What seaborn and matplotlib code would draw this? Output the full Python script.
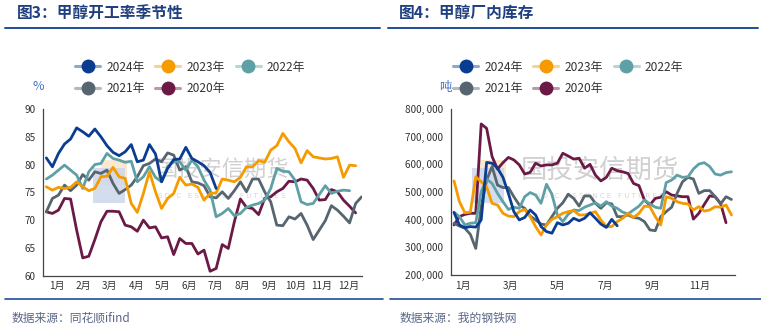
import numpy as np
import pandas as pd
import matplotlib
matplotlib.use('Agg')
import matplotlib.pyplot as plt
import seaborn as sns
from matplotlib.lines import Line2D
from matplotlib.ticker import FuncFormatter
import matplotlib.patches as mpatches

# ---------------- data ----------------
years = ['2024年', '2023年', '2022年', '2021年', '2020年']
colors = ['#0a3d91', '#f59b00', '#5fa0a6', '#56656f', '#6b1a46']
month_labels = ['1月', '2月', '3月', '4月', '5月', '6月', '7月', '8月', '9月', '10月', '11月', '12月']
inv_month_labels = ['1月', '3月', '5月', '7月', '9月', '11月']

rate_2024 = [81.2, 79.6, 82.0, 83.7, 84.6, 86.6, 85.9, 85.1, 86.4, 85.0, 83.4, 82.2, 81.6, 82.3,
             83.6, 80.5, 80.8, 83.6, 81.9, 76.9, 79.3, 80.9, 81.0, 83.1, 81.1, 80.5, 79.8, 78.6, 75.7]
rate_2023 = [76.0, 75.4, 75.9, 75.7, 75.9, 76.9, 76.0, 75.3, 75.7, 77.8, 77.9, 79.5, 77.8, 77.5,
             73.0, 71.4, 74.8, 78.7, 75.1, 72.1, 73.9, 74.8, 77.7, 76.3, 76.5, 75.9, 73.6, 74.8,
             74.9, 77.4, 77.2, 76.9, 77.7, 79.6, 79.6, 80.7, 80.4, 82.6, 83.4, 85.6, 84.1, 82.9,
             80.3, 82.5, 81.4, 81.2, 81.0, 81.1, 81.4, 77.7, 79.9, 79.8]
rate_2022 = [77.4, 78.1, 79.0, 79.9, 79.0, 78.1, 75.7, 78.7, 80.0, 80.2, 82.0, 81.1, 80.8, 80.4,
             80.6, 76.9, 77.8, 79.6, 77.7, 76.9, 79.6, 80.5, 80.5, 79.0, 80.8, 79.6, 77.2, 75.4,
             70.6, 71.2, 72.1, 70.8, 71.2, 72.3, 72.7, 73.0, 73.6, 75.7, 79.3, 78.8, 78.7, 77.2,
             73.3, 72.8, 73.0, 74.6, 76.2, 74.8, 75.2, 75.4, 75.3]
rate_2021 = [71.5, 73.9, 74.5, 76.3, 75.3, 76.3, 78.2, 77.2, 78.7, 78.4, 79.0, 76.6, 74.8, 75.5,
             76.3, 77.8, 79.8, 80.2, 81.0, 80.5, 82.1, 81.7, 79.0, 79.6, 76.9, 76.7, 76.2, 74.2,
             74.0, 75.1, 73.9, 75.3, 76.9, 75.1, 77.4, 77.4, 75.1, 73.3, 69.1, 69.0, 70.6, 70.2,
             71.2, 69.1, 66.5, 68.2, 69.9, 72.6, 71.8, 70.7, 69.5, 73.0, 74.2]
rate_2020 = [71.5, 71.2, 71.8, 73.9, 73.8, 68.2, 63.2, 63.5, 66.5, 69.7, 71.6, 71.6, 71.5, 69.1,
             68.8, 68.0, 70.0, 68.6, 68.8, 66.8, 67.0, 63.8, 66.7, 65.8, 65.8, 63.9, 64.6, 60.8,
             61.3, 65.6, 64.9, 69.7, 73.8, 72.3, 72.1, 71.0, 73.9, 74.2, 75.1, 75.7, 77.0, 76.9,
             77.4, 77.2, 75.7, 73.6, 73.7, 75.5, 75.1, 73.6, 72.5, 71.3]

inv_2024 = [426, 381, 371, 375, 373, 399, 607, 604, 586, 553, 495, 429, 399, 408, 435, 417,
            375, 357, 351, 389, 381, 387, 405, 396, 405, 425, 405, 384, 372, 401, 378]
inv_2023 = [540, 465, 425, 427, 555, 537, 519, 459, 453, 423, 413, 411, 429, 437, 411, 375,
            345, 381, 401, 411, 423, 429, 433, 417, 417, 423, 429, 399, 375, 375, 393, 405,
            423, 408, 423, 449, 447, 411, 381, 483, 477, 465, 459, 457, 435, 447, 431, 435,
            447, 445, 453, 417]
inv_2022 = [427, 411, 381, 387, 389, 501, 547, 531, 495, 465, 437, 445, 441, 483, 498, 489,
            459, 528, 492, 417, 393, 420, 435, 433, 445, 453, 461, 449, 465, 449, 441, 427,
            421, 435, 449, 471, 457, 445, 441, 534, 543, 561, 553, 555, 583, 601, 606, 592,
            565, 561, 570, 573]
inv_2021 = [387, 377, 369, 347, 296, 447, 543, 592, 525, 516, 516, 483, 453, 441, 413, 399,
            384, 381, 411, 441, 461, 492, 477, 449, 486, 486, 459, 441, 461, 457, 411, 411,
            417, 408, 405, 393, 363, 360, 411, 429, 445, 495, 537, 553, 547, 495, 505, 505,
            483, 457, 483, 473]
inv_2020 = [381, 411, 419, 423, 423, 746, 730, 628, 583, 606, 625, 616, 598, 565, 571, 604,
            594, 598, 598, 604, 640, 630, 619, 622, 586, 600, 561, 540, 553, 586, 577, 573,
            567, 531, 523, 471, 453, 477, 481, 501, 489, 486, 483, 483, 402, 423, 455, 486,
            483, 459, 389]

rate_series = [rate_2024, rate_2023, rate_2022, rate_2021, rate_2020]
inv_series = [inv_2024, inv_2023, inv_2022, inv_2021, inv_2020]


def long_df(series, offset):
    rows = []
    for y, vals in zip(years, series):
        for i, v in enumerate(vals):
            rows.append({'week': i + offset, 'value': v, 'year': y})
    return pd.DataFrame(rows)


df_rate = long_df(rate_series, 0.5)
df_inv = long_df(inv_series, 0.55)
df_inv['value'] = df_inv['value'] * 1000

# ---------------- style ----------------
sns.set_theme(style='white')
plt.rcParams['font.family'] = ['Noto Sans CJK SC', 'DejaVu Sans']
plt.rcParams['axes.unicode_minus'] = False

W, H = 761, 330
fig = plt.figure(figsize=(W / 100, H / 100), dpi=100)
fig.patch.set_facecolor('white')

title_col = '#1f3f7f'
line_col = '#1f4e96'
axis_col = '#444444'
tick_col = '#333333'
palette = dict(zip(years, colors))


def fx(px):
    return px / W


def fy(py):
    return 1 - py / H


def lighten(c, a=0.45):
    r, g, b = matplotlib.colors.to_rgb(c)
    return (1 - a * (1 - r), 1 - a * (1 - g), 1 - a * (1 - b))


def style_axes(ax):
    for s in ['top', 'right']:
        ax.spines[s].set_visible(False)
    for s in ['left', 'bottom']:
        ax.spines[s].set_color(axis_col)
        ax.spines[s].set_linewidth(0.9)
    ax.tick_params(axis='both', which='major', direction='out', length=3.5, width=0.9,
                   color=axis_col, labelsize=7.2, labelcolor=tick_col, pad=2)
    ax.set_xlabel('')
    ax.set_ylabel('')
    ax.grid(False)


def add_legend(x_left):
    order = [0, 3, 1, 4, 2]
    handles = []
    labels = []
    for k in order:
        handles.append(Line2D([0], [0], color=lighten(colors[k]), lw=2.2, marker='o',
                              markersize=9, markerfacecolor=colors[k],
                              markeredgecolor=colors[k]))
        labels.append(years[k])
    fig.legend(handles, labels, ncol=3, loc='center left',
               bbox_to_anchor=(fx(x_left), fy(78)), frameon=False, fontsize=8.6,
               handlelength=2.1, handletextpad=0.5, columnspacing=0.9, labelspacing=0.75,
               borderpad=0, borderaxespad=0, labelcolor='#333333')


def watermark(ax, logo_x, text_x, text_size):
    ax.add_patch(mpatches.Rectangle((fx(logo_x), fy(203)), fx(32), (203 - 168) / H,
                                    transform=fig.transFigure, color='#ccd7ea', alpha=0.85,
                                    zorder=0.5, lw=0))
    ax.add_patch(mpatches.Rectangle((fx(logo_x + 8), fy(185)), fx(26), (185 - 160) / H,
                                    transform=fig.transFigure, color='#fbe4c8', alpha=0.85,
                                    zorder=0.4, lw=0))
    ax.text(fx(text_x), fy(170), '国投安信期货', fontsize=text_size, color='#d0d0d0',
            ha='center', va='center', zorder=0.3, transform=fig.transFigure)
    ax.text(fx(text_x), fy(196), 'S D I C   E S S E N C E   F U T U R E S', fontsize=5,
            color='#d5d5d5', ha='center', va='center', zorder=0.3,
            transform=fig.transFigure, family='DejaVu Sans')


# ---------------- left chart ----------------
ax1 = fig.add_axes([fx(43.3), fy(275.7), fx(361.7 - 43.3), (275.7 - 109) / H])
watermark(ax1, 93, 222, 16)
sns.lineplot(data=df_rate, x='week', y='value', hue='year', palette=palette,
             hue_order=years[::-1], linewidth=2.0, ax=ax1, legend=False, sort=False)
wk_end1 = 52.5
ax1.set_xlim(0, wk_end1)
ax1.set_ylim(60, 90)
ax1.set_yticks(np.arange(60, 91, 5))
mw = wk_end1 / 12
ax1.set_xticks([mw * k for k in range(13)])
ax1.set_xticklabels([''] * 13)
ax1.set_xticks([mw * (k + 0.5) for k in range(12)], minor=True)
ax1.set_xticklabels(month_labels, minor=True)
style_axes(ax1)
ax1.tick_params(axis='x', which='minor', length=0, labelsize=7.2, labelcolor=tick_col, pad=4)

# ---------------- right chart ----------------
ax2 = fig.add_axes([fx(451), fy(275), fx(735 - 451), (275 - 109) / H])
watermark(ax2, 472, 600, 19)
sns.lineplot(data=df_inv, x='week', y='value', hue='year', palette=palette,
             hue_order=years[::-1], linewidth=2.0, ax=ax2, legend=False, sort=False)
wk_end2 = 52.2
ax2.set_xlim(0, wk_end2)
ax2.set_ylim(200000, 800000)
ax2.set_yticks(np.arange(200000, 800001, 100000))
ax2.yaxis.set_major_formatter(FuncFormatter(lambda v, p: f"{int(v) // 1000}, {int(v) % 1000:03d}"))
mw2 = wk_end2 / 12
ax2.set_xticks([mw2 * k for k in range(0, 13, 2)])
ax2.set_xticklabels([''] * 7)
ax2.set_xticks([mw2 * (k + 0.5) for k in range(0, 12, 2)], minor=True)
ax2.set_xticklabels(inv_month_labels, minor=True)
style_axes(ax2)
ax2.tick_params(axis='x', which='minor', length=0, labelsize=7.2, labelcolor=tick_col, pad=4)

# ---------------- legends, titles, decorations ----------------
add_legend(75)
add_legend(453)

fig.text(fx(38), fy(87), '%', fontsize=9, color='#4472c4', ha='center', va='center')
fig.text(fx(445), fy(88), '吨', fontsize=9, color='#4472c4', ha='center', va='center')

fig.text(fx(17), fy(13), '图3：甲醇开工率季节性', fontsize=11.3, fontweight='bold',
         color=title_col, ha='left', va='center')
fig.text(fx(399), fy(13), '图4：甲醇厂内库存', fontsize=11.3, fontweight='bold',
         color=title_col, ha='left', va='center')

for (x0, x1) in [(5, 380), (388, 758)]:
    fig.add_artist(Line2D([fx(x0), fx(x1)], [fy(28), fy(28)], color=line_col, lw=1.4))
for (x0, x1) in [(5, 383), (390, 761)]:
    fig.add_artist(Line2D([fx(x0), fx(x1)], [fy(298.5), fy(298.5)], color=line_col, lw=1.2))

fig.text(fx(12), fy(318), '数据来源：同花顺ifind', fontsize=8.5, color='#5a6788',
         ha='left', va='center', style='italic')
fig.text(fx(400), fy(318), '数据来源：我的钢铁网', fontsize=8.5, color='#5a6788',
         ha='left', va='center', style='italic')

fig.savefig('out.png', dpi=100)
